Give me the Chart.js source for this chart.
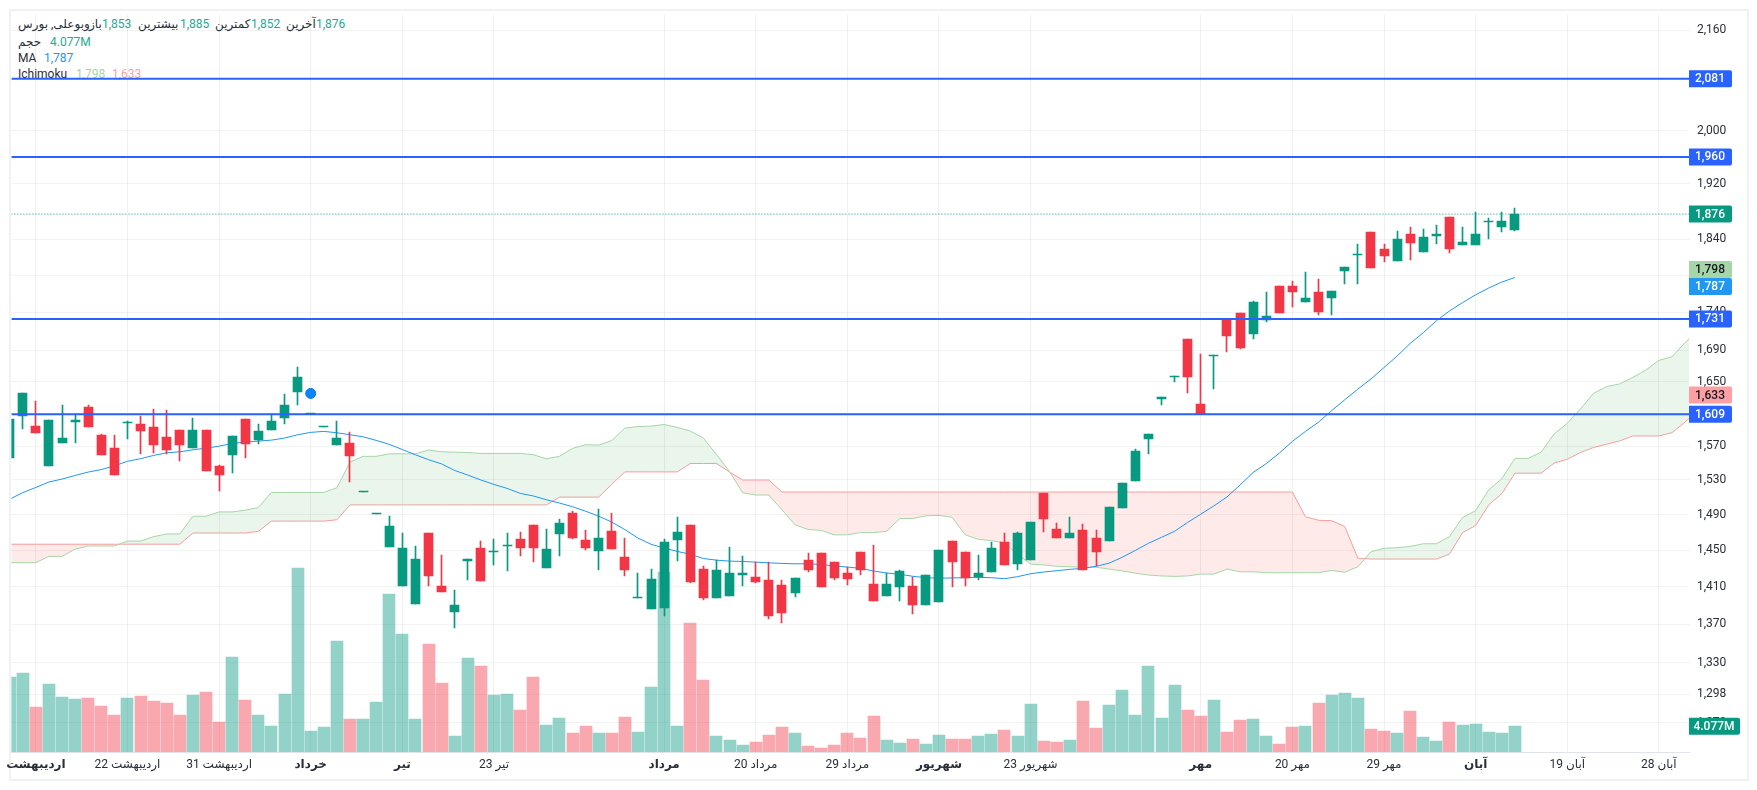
<!DOCTYPE html>
<html lang="fa">
<head>
<meta charset="utf-8">
<title>وبوعلی</title>
<script src="https://cdn.jsdelivr.net/npm/chart.js@4/dist/chart.umd.min.js"></script>
<style>
    html, body { margin: 0; padding: 0; background: #fff; width: 1757px; height: 790px; overflow: hidden; }
    #frame { position: absolute; left: 9px; top: 9px; width: 1736px; height: 768px; border: 2px solid #eff1f6; }
    #chart { position: absolute; left: 0; top: 0; z-index: 2; }
    #legend span { position: absolute; font: 12px Roboto, 'DejaVu Sans', sans-serif; line-height: 14px; color: #2a2e39; white-space: nowrap; z-index: 1; }
    #legend .up { color: #22ab94; }
</style>
</head>
<body>
<div id="frame"></div>
<div id="legend">
    <span dir="rtl" style="left:18px;top:17px">وبوعلی, بورس</span>
    <span dir="rtl" style="left:89px;top:17px">باز</span><span class="up" style="left:102px;top:17px">1,853</span>
    <span dir="rtl" style="left:138px;top:17px">بیشترین</span><span class="up" style="left:180px;top:17px">1,885</span>
    <span dir="rtl" style="left:215px;top:17px">کمترین</span><span class="up" style="left:251px;top:17px">1,852</span>
    <span dir="rtl" style="left:286px;top:17px">آخرین</span><span class="up" style="left:316px;top:17px">1,876</span>
    <span dir="rtl" style="left:18px;top:35px">حجم</span><span class="up" style="left:50px;top:35px">4.077M</span>
    <span style="left:18px;top:51px">MA</span><span style="left:44px;top:51px;color:#2196f3">1,787</span>
    <span style="left:18px;top:67px">Ichimoku</span><span style="left:76px;top:67px;color:#a5d6a7">1,798</span><span style="left:112px;top:67px;color:#fda0a4">1,633</span>
</div>
<canvas id="chart" width="1757" height="790"></canvas>

<script>
const opens = [
    1556, 1607, 1595, 1546, 1574, 1599, 1618, 1584, 1568, 1598,
    1597, 1593, 1581, 1590, 1568, 1590, 1547, 1560, 1603, 1578,
    1590, 1605, 1637, 1609, 1593, 1572, 1574, 1516, 1491, 1453,
    1411, 1391, 1469, 1411, 1383, 1438, 1452, 1448, 1455, 1462,
    1478, 1430, 1468, 1492, 1461, 1449, 1471, 1442, 1398, 1386,
    1387, 1461, 1478, 1429, 1398, 1400, 1423, 1420, 1417, 1412,
    1403, 1439, 1447, 1437, 1425, 1448, 1413, 1400, 1410, 1411,
    1390, 1393, 1460, 1448, 1420, 1426, 1459, 1435, 1439, 1515,
    1474, 1463, 1473, 1464, 1460, 1498, 1529, 1579, 1628, 1656,
    1705, 1622, 1683, 1730, 1739, 1711, 1730, 1775, 1775, 1754,
    1767, 1759, 1796, 1818, 1851, 1826, 1810, 1848, 1822, 1845,
    1872, 1832, 1832, 1865, 1858, 1853
];
const highs = [
    1603, 1636, 1625, 1602, 1621, 1608, 1621, 1585, 1584, 1601,
    1607, 1615, 1614, 1590, 1605, 1590, 1548, 1582, 1603, 1597,
    1609, 1634, 1668, 1609, 1593, 1601, 1587, 1516, 1491, 1488,
    1469, 1454, 1469, 1445, 1406, 1440, 1460, 1462, 1469, 1470,
    1478, 1474, 1485, 1494, 1473, 1496, 1492, 1463, 1425, 1429,
    1462, 1487, 1478, 1432, 1439, 1453, 1443, 1437, 1437, 1417,
    1419, 1447, 1447, 1437, 1431, 1448, 1456, 1425, 1428, 1420,
    1422, 1450, 1460, 1448, 1444, 1459, 1469, 1470, 1482, 1515,
    1480, 1487, 1479, 1472, 1499, 1526, 1567, 1585, 1630, 1657,
    1705, 1685, 1684, 1730, 1739, 1755, 1767, 1775, 1782, 1794,
    1785, 1768, 1802, 1834, 1851, 1834, 1852, 1858, 1854, 1861,
    1872, 1858, 1879, 1871, 1879, 1885
];
const lows = [
    1556, 1591, 1586, 1546, 1574, 1574, 1594, 1560, 1536, 1579,
    1561, 1562, 1561, 1552, 1568, 1540, 1517, 1538, 1556, 1573,
    1590, 1597, 1620, 1609, 1593, 1572, 1528, 1516, 1491, 1453,
    1411, 1391, 1411, 1404, 1366, 1417, 1416, 1433, 1427, 1443,
    1437, 1430, 1443, 1462, 1450, 1428, 1451, 1421, 1398, 1386,
    1379, 1438, 1414, 1395, 1398, 1400, 1411, 1414, 1375, 1371,
    1399, 1426, 1409, 1417, 1412, 1422, 1394, 1400, 1394, 1381,
    1390, 1393, 1410, 1411, 1417, 1426, 1434, 1428, 1439, 1470,
    1464, 1463, 1428, 1432, 1460, 1498, 1529, 1561, 1620, 1650,
    1636, 1609, 1640, 1688, 1691, 1705, 1727, 1739, 1747, 1754,
    1736, 1736, 1778, 1778, 1800, 1808, 1810, 1811, 1822, 1833,
    1821, 1832, 1832, 1840, 1851, 1852
];
const closes = [
    1603, 1636, 1586, 1602, 1580, 1602, 1594, 1560, 1536, 1598,
    1588, 1571, 1566, 1571, 1590, 1540, 1536, 1582, 1573, 1588,
    1601, 1620, 1656, 1609, 1593, 1580, 1559, 1516, 1491, 1477,
    1452, 1440, 1421, 1404, 1390, 1440, 1416, 1448, 1455, 1452,
    1452, 1451, 1480, 1463, 1452, 1464, 1451, 1428, 1398, 1418,
    1459, 1470, 1415, 1398, 1428, 1425, 1425, 1415, 1379, 1382,
    1419, 1428, 1409, 1419, 1418, 1428, 1394, 1413, 1427, 1390,
    1422, 1450, 1437, 1419, 1425, 1452, 1434, 1469, 1482, 1485,
    1464, 1469, 1428, 1448, 1499, 1526, 1564, 1585, 1630, 1657,
    1656, 1609, 1684, 1709, 1693, 1754, 1735, 1739, 1767, 1759,
    1740, 1768, 1802, 1818, 1800, 1816, 1841, 1835, 1843, 1847,
    1827, 1836, 1848, 1865, 1866, 1876
];
// million shares
const volumes = [
    11.76, 12.54, 7.05, 10.66, 8.62, 8.31, 8.46, 7.21, 5.80, 8.46,
    8.78, 7.99, 7.68, 5.80, 8.93, 9.40, 4.70, 15.05, 8.15, 5.80,
    4.08, 9.09, 29.0, 3.29, 3.92, 17.55, 5.17, 5.17, 7.84, 24.92,
    18.65, 5.17, 17.08, 10.82, 2.51, 14.89, 13.64, 8.93, 9.09, 6.58,
    11.76, 4.23, 5.33, 2.98, 4.08, 2.98, 2.98, 5.49, 3.13, 10.19,
    28.37, 4.08, 20.38, 11.44, 2.51, 1.88, 1.10, 1.57, 2.66, 3.92,
    2.98, 0.94, 0.63, 1.10, 2.98, 2.19, 5.64, 1.88, 1.41, 2.04,
    1.25, 2.66, 2.04, 2.04, 2.51, 2.82, 3.45, 2.51, 7.52, 1.72,
    1.57, 1.88, 7.99, 3.76, 7.37, 9.72, 5.80, 13.64, 5.33, 10.50,
    6.58, 5.64, 8.15, 3.13, 5.02, 5.17, 2.51, 1.25, 3.92, 4.08,
    7.68, 8.93, 9.25, 8.46, 3.61, 3.29, 2.98, 6.43, 2.35, 1.72,
    4.70, 4.23, 4.39, 3.13, 2.98, 4.077
];
const maValues = [
    1507.6, 1515.2, 1521.3, 1527.6, 1531.1, 1535.3, 1539.3, 1542.3, 1546.7, 1552.1,
    1555.2, 1559.1, 1562.2, 1563.4, 1565.8, 1567.8, 1570.2, 1573.5, 1575.1, 1576.3,
    1577.5, 1580, 1584, 1586.9, 1588.1, 1586.4, 1584, 1581.5, 1577.2, 1572.3,
    1566.2, 1559.8, 1554, 1549, 1541.2, 1535.8, 1530, 1524.8, 1520.2, 1514.4,
    1511.4, 1507, 1503.2, 1499, 1493.8, 1488.2, 1481.4, 1472.9, 1463.4, 1456.4,
    1452.2, 1448.5, 1445.3, 1440.6, 1438.8, 1437.7, 1437.4, 1436.6, 1435.8, 1435.2,
    1434.8, 1434.8, 1434.1, 1432.3, 1431.2, 1429.8, 1426.9, 1424.7, 1423.3, 1421.1,
    1419.6, 1419, 1419.3, 1419.6, 1420, 1419.6, 1418.5, 1420.7, 1423.9, 1425.8,
    1427.2, 1428.7, 1429.8, 1432, 1435.5, 1442, 1449.6, 1457.5, 1464.2, 1471,
    1481.1, 1490.4, 1499.9, 1510.2, 1524.1, 1538.8, 1549.3, 1561.8, 1576, 1588.1,
    1599.4, 1613.6, 1627.1, 1640.5, 1653.1, 1667.8, 1682.5, 1698.9, 1712.9, 1728.6,
    1741.7, 1752.9, 1763.4, 1772.6, 1780.7, 1787
];
const spanA = [
    1436, 1436, 1436, 1443, 1443, 1451, 1454.5, 1454.5, 1454.5, 1460,
    1460, 1465, 1468, 1468, 1488, 1488, 1493, 1493, 1495, 1498,
    1515.5, 1515.5, 1515.5, 1515.5, 1515.5, 1521, 1551, 1558, 1558, 1561,
    1561, 1561, 1565.5, 1563.5, 1563, 1562.5, 1561.5, 1561.5, 1561.5, 1561.5,
    1560, 1555, 1558, 1567.5, 1572, 1571.5, 1577, 1592, 1594, 1594.5,
    1596.5, 1593, 1588.5, 1580, 1560, 1540, 1515, 1512.5, 1512.5, 1495.5,
    1478.5, 1473, 1472, 1467, 1467, 1469.5, 1469.5, 1471, 1485.5, 1485.5,
    1488.5, 1489, 1487, 1467, 1462, 1460.5, 1458, 1445, 1434.5, 1433.5,
    1432, 1431.5, 1431, 1431, 1429, 1427, 1424.5, 1422.5, 1421.5, 1421,
    1421.5, 1423.5, 1423.5, 1429, 1426, 1426, 1425, 1425, 1425, 1425,
    1425, 1427.5, 1425.5, 1431.5, 1448, 1452, 1452.5, 1454, 1457, 1457,
    1465, 1486.5, 1494.5, 1518.5, 1531.5, 1555.5, 1555.5, 1563, 1585, 1598,
    1615.5, 1635, 1643.5, 1647, 1655, 1664.5, 1677, 1681.5, 1700, 1715.5
];
const spanB = [
    1456.5, 1456.5, 1456.5, 1456.5, 1456.5, 1456.5, 1456.5, 1456.5, 1456.5, 1456.5,
    1456.5, 1456.5, 1456.5, 1456.5, 1469, 1469, 1469, 1469, 1469, 1471,
    1482.5, 1482.5, 1482.5, 1482.5, 1482.5, 1484, 1501, 1501, 1501, 1501,
    1501, 1501, 1501, 1501, 1501, 1501, 1501, 1501, 1501, 1501,
    1501, 1501, 1510, 1510, 1510, 1510, 1525, 1539.5, 1539.5, 1539.5,
    1539.5, 1539.5, 1549.5, 1549.5, 1549.5, 1539.5, 1530, 1530, 1530, 1516,
    1516, 1516, 1516, 1516, 1516, 1516, 1516, 1516, 1516, 1516,
    1516, 1516, 1516, 1516, 1516, 1516, 1516, 1516, 1516, 1516,
    1516, 1516, 1516, 1516, 1516, 1516, 1516, 1516, 1516, 1516,
    1516, 1516, 1516, 1516, 1516, 1516, 1516, 1516, 1516, 1487.5,
    1483.5, 1483, 1476.5, 1441, 1440, 1440, 1440, 1440, 1440, 1440,
    1445.5, 1469.5, 1477.5, 1501, 1514, 1538, 1538, 1538, 1550, 1554.5,
    1562.5, 1568.5, 1572.5, 1576.5, 1582.5, 1582.5, 1582.5, 1586.5, 1599.5, 1614
];
const levels = [2081, 1960, 1731, 1609];
const lastPrice = 1876;
const spanALast = 1798;
const maLast = 1787;
const spanBLast = 1633;
const volumeLast = 4.077;
const markerIndex = 23;
const markerPrice = 1635;

const priceTicks = [2160, 2000, 1920, 1840, 1790, 1740, 1690, 1650, 1610, 1570, 1530, 1490, 1450, 1410, 1370, 1330, 1298, 1270];
const timeTicks = [2, 9, 16, 23, 30, 37, 50, 57, 64, 71, 78, 91, 98, 105, 112, 119, 126];
const timeLabels = ['اردیبهشت', 'اردیبهشت 22', 'اردیبهشت 31', 'خرداد', 'تیر', 'تیر 23', 'مرداد', 'مرداد 20', 'مرداد 29', 'شهریور', 'شهریور 23', 'مهر', 'مهر 20', 'مهر 29', 'آبان', 'آبان 19', 'آبان 28'];
const monthTicks = [2, 23, 30, 50, 71, 91, 112];

const xMin = 0.13, xMax = 128.3;
const priceMin = 1242, priceMax = 2185;
const volumeMax = 116.3;

const UP = '#089981', DOWN = '#f23645';
const UP_VOL = 'rgba(8,153,129,0.44)', DOWN_VOL = 'rgba(242,54,69,0.43)';
const LEVEL = '#2962ff';
const FONT = "Roboto, 'DejaVu Sans', sans-serif";

Chart.defaults.font.family = FONT;
Chart.defaults.font.size = 12;

function isUp(i) { return closes[i] >= opens[i]; }
function series(values) { return values.map((y, x) => ({ x, y })); }

// keeps the thin candles on whole pixels, otherwise the wicks come out blurred
const snapBars = {
    id: 'snapBars',
    afterDatasetsUpdate(chart) {
        chart.getSortedVisibleDatasetMetas().forEach(meta => {
            if (meta.type !== 'bar') return;
            const even = meta.yAxisID === 'vol';
            meta.data.forEach(el => {
                el.x = even ? Math.round(el.x) : Math.floor(el.x) + 0.5;
                el.y = Math.round(el.y);
                el.base = Math.round(el.base);
            });
        });
    }
};

// coloured value labels on the price axis
const valueTags = {
    id: 'valueTags',
    afterDraw(chart) {
        const { ctx, scales } = chart;
        const left = chart.chartArea.right;
        const h = 17;
        const tags = [
            { v: levels[0], bg: LEVEL, fg: '#fff' },
            { v: levels[1], bg: LEVEL, fg: '#fff' },
            { v: lastPrice, bg: UP, fg: '#fff' },
            { v: spanALast, bg: '#a5d6a7', fg: '#131722' },
            { v: maLast, bg: '#2196f3', fg: '#fff' },
            { v: levels[2], bg: LEVEL, fg: '#fff' },
            { v: spanBLast, bg: '#fda0a4', fg: '#131722' },
            { v: levels[3], bg: LEVEL, fg: '#fff' }
        ];
        let prev = -100;
        ctx.save();
        ctx.font = '500 12px ' + FONT;
        ctx.textAlign = 'center';
        ctx.textBaseline = 'middle';
        const drawTag = (y, w, text, bg, fg) => {
            ctx.fillStyle = bg;
            ctx.beginPath();
            ctx.roundRect(left, y - h / 2, w, h, [0, 2, 2, 0]);
            ctx.fill();
            ctx.fillStyle = fg;
            ctx.fillText(text, left + w / 2 - 0.5, y + 0.5);
        };
        tags.forEach(t => {
            let y = scales.y.getPixelForValue(t.v);
            if (y - prev < h) y = prev + h;
            prev = y;
            drawTag(y, 43, t.v.toLocaleString('en-US'), t.bg, t.fg);
        });
        drawTag(scales.vol.getPixelForValue(volumeLast), 51, volumeLast + 'M', UP, '#fff');
        ctx.restore();
    }
};

const datasets = [
    {
        type: 'bar', yAxisID: 'vol', order: 7, grouped: false,
        barThickness: 12, maxBarThickness: 12, borderWidth: 0,
        data: series(volumes),
        backgroundColor: volumes.map((_, i) => isUp(i) ? UP_VOL : DOWN_VOL)
    },
    {
        type: 'line', order: 6, data: series(spanB),
        borderColor: '#faa1a4', borderWidth: 1, pointRadius: 0, tension: 0, fill: false
    },
    {
        type: 'line', order: 5, data: series(spanA),
        borderColor: '#a5d6a7', borderWidth: 1, pointRadius: 0, tension: 0,
        fill: { target: 1, above: 'rgba(67,160,71,0.11)', below: 'rgba(244,67,54,0.11)' }
    },
    {
        type: 'line', order: 4, data: series(maValues),
        borderColor: '#2196f3', borderWidth: 1, pointRadius: 0, tension: 0, fill: false
    },
    {
        type: 'bar', order: 3, grouped: false,
        barThickness: 1, maxBarThickness: 1, borderWidth: 0,
        data: highs.map((h, i) => ({ x: i, y: [lows[i], h] })),
        backgroundColor: highs.map((_, i) => isUp(i) ? UP : DOWN)
    },
    {
        type: 'bar', order: 2, grouped: false,
        barThickness: 9, maxBarThickness: 9, minBarLength: 1, borderWidth: 0,
        data: opens.map((o, i) => ({ x: i, y: [o, closes[i]] })),
        backgroundColor: opens.map((_, i) => isUp(i) ? UP : DOWN)
    },
    {
        type: 'line', order: 1, data: [{ x: xMin, y: lastPrice }, { x: xMax, y: lastPrice }],
        borderColor: UP, borderWidth: 1, borderDash: [1, 2], pointRadius: 0, fill: false
    },
    {
        type: 'line', order: 1, data: [{ x: markerIndex, y: markerPrice }], showLine: false,
        pointRadius: 5, pointBackgroundColor: '#0a84ff', pointBorderColor: '#0677e6', pointBorderWidth: 1
    }
];
levels.forEach(level => {
    datasets.push({
        type: 'line', order: 0, data: [{ x: xMin, y: level }, { x: xMax, y: level }],
        borderColor: LEVEL, borderWidth: 2, pointRadius: 0, fill: false
    });
});

new Chart(document.getElementById('chart'), {
    type: 'bar',
    data: { datasets },
    plugins: [snapBars, valueTags],
    options: {
        responsive: false,
        animation: false,
        devicePixelRatio: 1,
        layout: { padding: { left: 10, top: 10, right: 0, bottom: 0 } },
        plugins: { legend: { display: false }, tooltip: { enabled: false } },
        scales: {
            x: {
                type: 'linear', min: xMin, max: xMax, offset: false,
                grid: { offset: false, color: 'rgba(42,46,57,0.07)', drawTicks: false },
                border: { color: '#e0e3eb', width: 1 },
                afterBuildTicks: scale => { scale.ticks = timeTicks.map(value => ({ value })); },
                afterFit: scale => { scale.height = 38; },
                ticks: {
                    autoSkip: false, maxRotation: 0, padding: 6, color: '#2a2e39',
                    font: ctx => ({ family: FONT, size: 12, weight: ctx.tick && monthTicks.includes(ctx.tick.value) ? 'bold' : 'normal' }),
                    callback: value => timeLabels[timeTicks.indexOf(value)]
                }
            },
            y: {
                type: 'logarithmic', position: 'right', min: priceMin, max: priceMax,
                grid: { color: 'rgba(42,46,57,0.06)', drawTicks: false },
                border: { display: false },
                afterBuildTicks: scale => { scale.ticks = priceTicks.map(value => ({ value })); },
                afterFit: scale => { scale.width = 68; },
                ticks: {
                    autoSkip: false, padding: 8, color: '#2a2e39',
                    callback: value => value.toLocaleString('en-US')
                }
            },
            vol: { type: 'linear', display: false, min: 0, max: volumeMax }
        }
    }
});
</script>
</body>
</html>
